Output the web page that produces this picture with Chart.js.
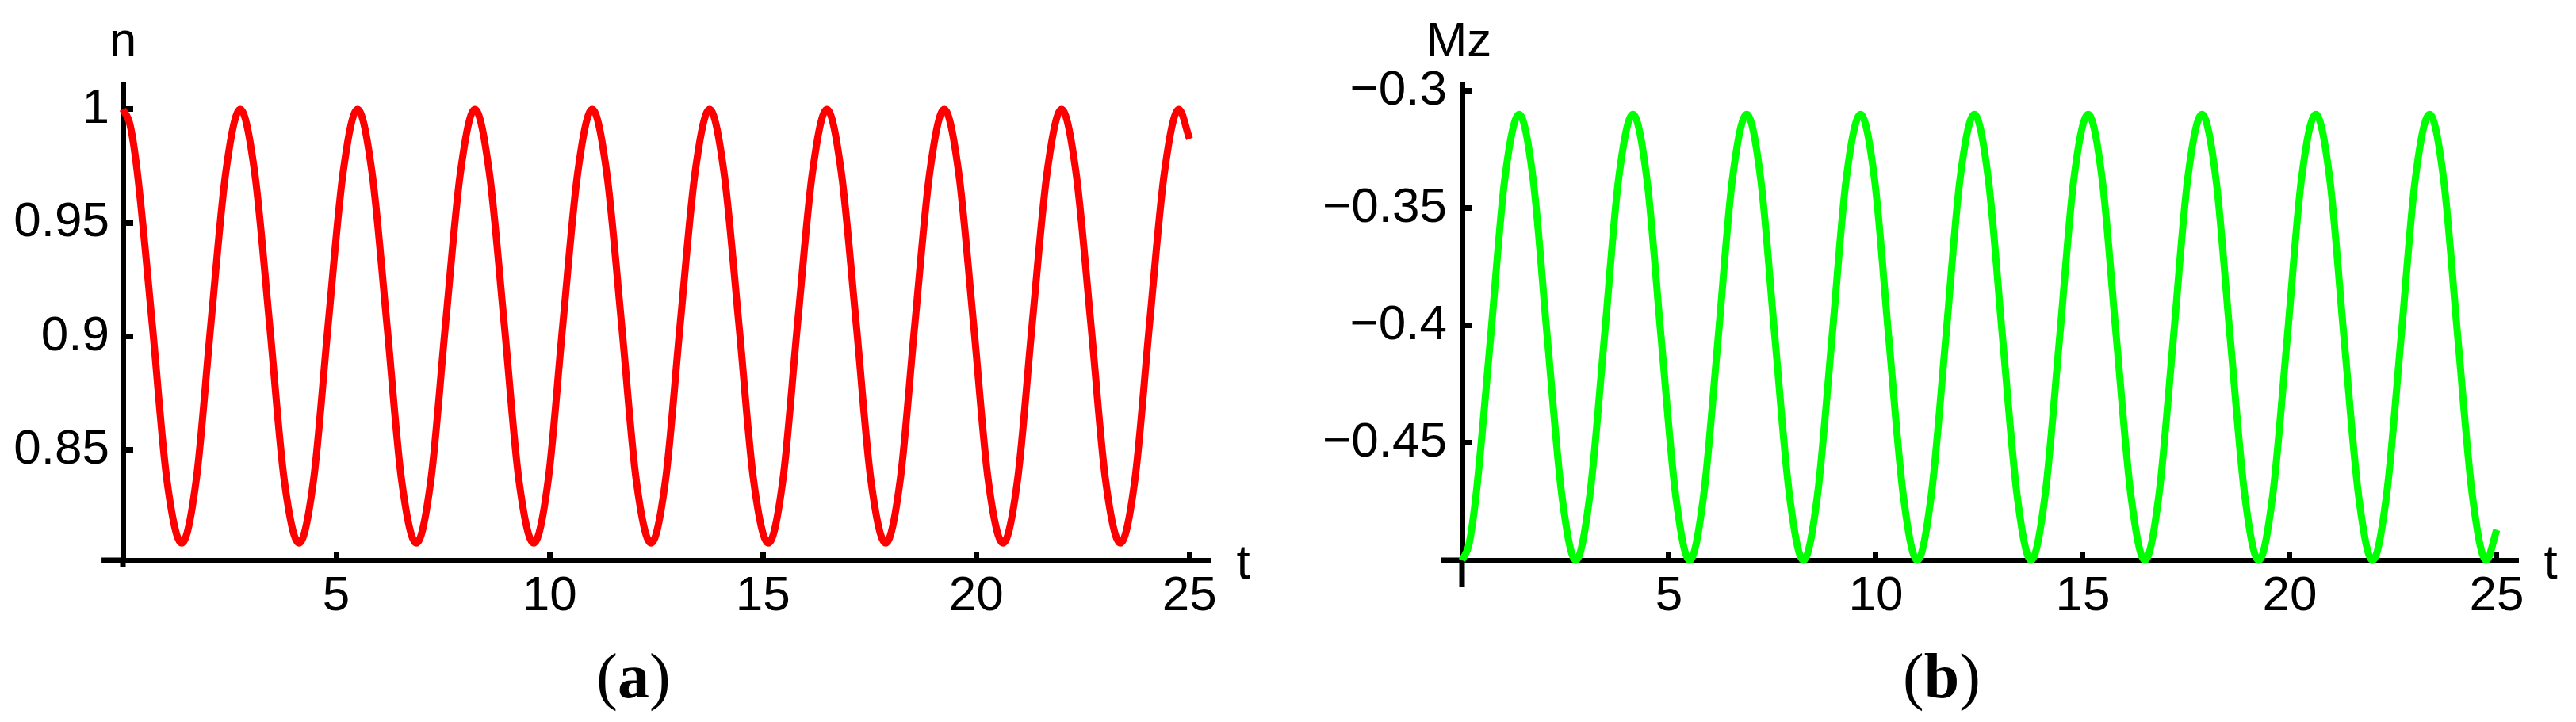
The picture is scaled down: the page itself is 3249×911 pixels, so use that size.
<!DOCTYPE html>
<html>
<head>
<meta charset="utf-8">
<script src="https://cdn.jsdelivr.net/npm/chart.js@4.4.0/dist/chart.umd.min.js"></script>
<style>
  html, body { margin: 0; padding: 0; background: #fff; }
  #wrap { position: relative; width: 3249px; height: 911px; overflow: hidden; }
  canvas { position: absolute; top: 0; }
  #chartA { left: 0; }
  #chartB { left: 1640px; }
  .cap {
    position: absolute; top: 813px; transform: translateX(-50%);
    font-family: "Liberation Serif", "Times New Roman", serif; font-size: 80px; line-height: 1;
  }
</style>
</head>
<body>
<div id="wrap">
  <canvas id="chartA" width="1640" height="911"></canvas>
  <canvas id="chartB" width="1609" height="911"></canvas>
  <div class="cap" style="left:799px">(<b>a</b>)</div>
  <div class="cap" style="left:2449px">(<b>b</b>)</div>
</div>
<script>
// time samples (~8 per oscillation)
const tValues = [
  0, 0.17, 0.34, 0.69, 1.03, 1.38, 1.72, 2.06, 2.41,
  2.75, 3.09, 3.44, 3.78, 4.13, 4.47, 4.81, 5.16,
  5.5, 5.84, 6.19, 6.53, 6.88, 7.22, 7.56, 7.91,
  8.25, 8.59, 8.94, 9.28, 9.63, 9.97, 10.31, 10.66,
  11, 11.34, 11.69, 12.03, 12.38, 12.72, 13.06, 13.41,
  13.75, 14.09, 14.44, 14.78, 15.13, 15.47, 15.81, 16.16,
  16.5, 16.84, 17.19, 17.53, 17.88, 18.22, 18.56, 18.91,
  19.25, 19.59, 19.94, 20.28, 20.63, 20.97, 21.31, 21.66,
  22, 22.34, 22.69, 23.03, 23.38, 23.72, 24.06, 24.41,
  24.75, 25
];

// panel (a): n(t)
const nValues = [
  1, 0.993, 0.972, 0.905, 0.837, 0.809, 0.837, 0.905, 0.972,
  1, 0.972, 0.905, 0.837, 0.809, 0.837, 0.905, 0.972,
  1, 0.972, 0.905, 0.837, 0.809, 0.837, 0.905, 0.972,
  1, 0.972, 0.905, 0.837, 0.809, 0.837, 0.905, 0.972,
  1, 0.972, 0.905, 0.837, 0.809, 0.837, 0.905, 0.972,
  1, 0.972, 0.905, 0.837, 0.809, 0.837, 0.905, 0.972,
  1, 0.972, 0.905, 0.837, 0.809, 0.837, 0.905, 0.972,
  1, 0.972, 0.905, 0.837, 0.809, 0.837, 0.905, 0.972,
  1, 0.972, 0.905, 0.837, 0.809, 0.837, 0.905, 0.972,
  1, 0.987
];

// panel (b): Mz(t)
const mzValues = [
  -0.5, -0.493, -0.472, -0.405, -0.338, -0.31, -0.338, -0.405, -0.472,
  -0.5, -0.472, -0.405, -0.338, -0.31, -0.338, -0.405, -0.472,
  -0.5, -0.472, -0.405, -0.338, -0.31, -0.338, -0.405, -0.472,
  -0.5, -0.472, -0.405, -0.338, -0.31, -0.338, -0.405, -0.472,
  -0.5, -0.472, -0.405, -0.338, -0.31, -0.338, -0.405, -0.472,
  -0.5, -0.472, -0.405, -0.338, -0.31, -0.338, -0.405, -0.472,
  -0.5, -0.472, -0.405, -0.338, -0.31, -0.338, -0.405, -0.472,
  -0.5, -0.472, -0.405, -0.338, -0.31, -0.338, -0.405, -0.472,
  -0.5, -0.472, -0.405, -0.338, -0.31, -0.338, -0.405, -0.472,
  -0.5, -0.487
];

const tTicks = [5, 10, 15, 20, 25];
const tTickLabels = ['5', '10', '15', '20', '25'];
const nTicks = [0.85, 0.9, 0.95, 1];
const nTickLabels = ['0.85', '0.9', '0.95', '1'];
const mzTicks = [-0.45, -0.4, -0.35, -0.3];
const mzTickLabels = ['\u22120.45', '\u22120.4', '\u22120.35', '\u22120.3'];

const FONT = '"Liberation Sans", Arial, sans-serif';

// axis names + the bits of axis that stick out past the crossing point
const axisExtras = {
  id: 'axisExtras',
  beforeDatasetsDraw(chart, args, o) {
    const { ctx, scales: { x, y } } = chart;
    const xb = x.getPixelForValue(x.min);
    const yb = y.getPixelForValue(y.min);
    ctx.save();
    ctx.strokeStyle = '#000';
    ctx.lineWidth = 7;
    ctx.beginPath();
    ctx.moveTo(x.getPixelForValue(o.xFrom), yb);
    ctx.lineTo(xb, yb);
    ctx.moveTo(xb, yb);
    ctx.lineTo(xb, y.getPixelForValue(o.yFrom));
    ctx.stroke();

    ctx.fillStyle = '#000';
    ctx.font = '62px ' + FONT;
    ctx.textBaseline = 'alphabetic';
    ctx.textAlign = 'center';
    ctx.fillText(o.yTitle, xb + o.yTitleDx, chart.chartArea.top - 36);
    ctx.fillText(o.xTitle, chart.chartArea.right + 44, yb + 23);
    ctx.restore();
  }
};

function makeChart(id, values, color, ticks, tickLabels, yMin, yMax, extras) {
  return new Chart(document.getElementById(id), {
    type: 'line',
    data: {
      datasets: [{
        data: tValues.map((t, i) => ({ x: t, y: values[i] })),
        borderColor: color,
        borderWidth: 9,
        pointRadius: 0,
        cubicInterpolationMode: 'monotone',
        clip: false
      }]
    },
    options: {
      responsive: false,
      animation: false,
      devicePixelRatio: 1,
      layout: { padding: { top: 107, right: extras.padRight, bottom: 0, left: 0 } },
      plugins: { legend: { display: false }, tooltip: { enabled: false }, axisExtras: extras },
      scales: {
        x: {
          type: 'linear',
          min: 0,
          max: extras.xMax,
          afterBuildTicks: s => { s.ticks = tTicks.map(v => ({ value: v })); },
          afterFit: s => { s.height = 204; },
          border: { display: true, color: '#000', width: 7 },
          grid: { drawOnChartArea: false, drawTicks: true, tickLength: -11, lineWidth: 7, tickWidth: 7, tickColor: '#000' },
          ticks: {
            padding: 20, color: '#000', maxRotation: 0, autoSkip: false,
            font: { family: FONT, size: 62 },
            callback: (v, i) => tTickLabels[i]
          }
        },
        y: {
          type: 'linear',
          min: yMin,
          max: yMax,
          afterBuildTicks: s => { s.ticks = ticks.map(v => ({ value: v })); },
          afterFit: s => { s.width = extras.axisLeft; },
          border: { display: true, color: '#000', width: 7 },
          grid: { drawOnChartArea: false, drawTicks: true, tickLength: -13, lineWidth: 7, tickWidth: 7, tickColor: '#000' },
          ticks: {
            padding: extras.labelPad, color: '#000',
            font: { family: FONT, size: 62 },
            callback: (v, i) => tickLabels[i]
          }
        }
      }
    },
    plugins: [axisExtras]
  });
}

makeChart('chartA', nValues, '#ff0000', nTicks, nTickLabels, 0.8014, 1.0108, {
  xMax: 25.44, padRight: 116, axisLeft: 155, labelPad: 30,
  xFrom: -0.5, yFrom: 0.7986, yTitle: 'n', yTitleDx: 0, xTitle: 't'
});

makeChart('chartB', mzValues, '#00ff00', mzTicks, mzTickLabels, -0.5, -0.2974, {
  xMax: 25.46, padRight: 76, axisLeft: 204, labelPad: 32,
  xFrom: -0.5, yFrom: -0.5115, yTitle: 'Mz', yTitleDx: -4, xTitle: 't'
});
</script>
</body>
</html>
